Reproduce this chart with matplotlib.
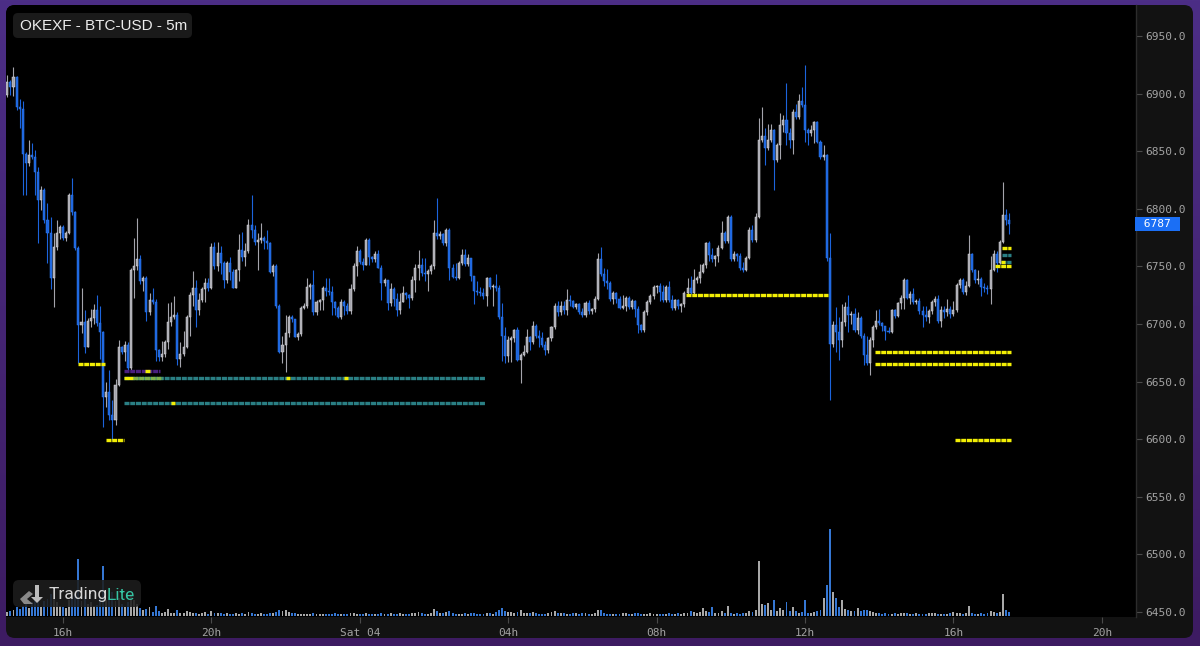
import matplotlib
matplotlib.use('Agg')
import matplotlib.pyplot as plt
import numpy as np
from matplotlib.patches import FancyBboxPatch, Polygon
from matplotlib.colors import LinearSegmentedColormap
import matplotlib.transforms as mtransforms

# ---------------- data ----------------
open0 = 6899
closes = [
    6910, 6906, 6914, 6888, 6887, 6848, 6840, 6847, 6845, 6832,
    6808, 6816, 6790, 6779, 6740, 6767, 6779, 6784, 6775, 6779,
    6812, 6797, 6766, 6699, 6702, 6680, 6703, 6705, 6712, 6701,
    6693, 6637, 6641, 6621, 6617, 6647, 6680, 6676, 6682, 6662,
    6747, 6750, 6756, 6737, 6740, 6710, 6721, 6719, 6677, 6671,
    6674, 6684, 6702, 6706, 6708, 6670, 6674, 6680, 6706, 6725,
    6731, 6712, 6721, 6730, 6736, 6731, 6767, 6750, 6762, 6753,
    6738, 6753, 6745, 6731, 6747, 6764, 6758, 6763, 6786, 6782,
    6771, 6773, 6775, 6772, 6770, 6745, 6750, 6716, 6676, 6682,
    6692, 6706, 6704, 6689, 6691, 6714, 6716, 6732, 6734, 6710,
    6719, 6721, 6731, 6729, 6728, 6719, 6714, 6706, 6719, 6716,
    6711, 6730, 6750, 6763, 6754, 6751, 6773, 6758, 6756, 6761,
    6749, 6736, 6738, 6718, 6730, 6722, 6712, 6719, 6727, 6725,
    6723, 6738, 6749, 6751, 6744, 6743, 6746, 6750, 6779, 6776,
    6778, 6770, 6782, 6749, 6741, 6740, 6753, 6760, 6752, 6757,
    6742, 6729, 6728, 6727, 6724, 6740, 6732, 6733, 6731, 6706,
    6690, 6672, 6686, 6688, 6695, 6669, 6673, 6676, 6689, 6684,
    6698, 6690, 6688, 6682, 6677, 6688, 6697, 6716, 6710, 6716,
    6712, 6721, 6720, 6715, 6717, 6710, 6708, 6718, 6711, 6713,
    6722, 6756, 6743, 6737, 6736, 6722, 6727, 6722, 6714, 6716,
    6723, 6715, 6720, 6713, 6699, 6695, 6710, 6719, 6724, 6732,
    6733, 6728, 6721, 6732, 6721, 6714, 6721, 6716, 6717, 6727,
    6731, 6727, 6738, 6740, 6745, 6751, 6770, 6760, 6756, 6759,
    6766, 6779, 6772, 6793, 6756, 6761, 6759, 6749, 6747, 6757,
    6782, 6773, 6793, 6860, 6863, 6853, 6860, 6868, 6842, 6855,
    6873, 6877, 6866, 6860, 6884, 6880, 6894, 6890, 6868, 6866,
    6868, 6875, 6858, 6845, 6847, 6757, 6683, 6699, 6693, 6686,
    6702, 6715, 6708, 6709, 6695, 6705, 6690, 6673, 6666, 6686,
    6697, 6703, 6701, 6698, 6694, 6693, 6712, 6707, 6718, 6723,
    6738, 6723, 6726, 6719, 6720, 6711, 6708, 6706, 6711, 6719,
    6722, 6703, 6712, 6710, 6713, 6709, 6712, 6734, 6738, 6728,
    6733, 6761, 6747, 6738, 6739, 6732, 6731, 6730, 6747, 6761,
    6753, 6771, 6795, 6790, 6787,
]
highs = [
    6916, 6912, 6923, 6915, 6895, 6894, 6849, 6860, 6857, 6851,
    6836, 6820, 6818, 6805, 6793, 6779, 6790, 6786, 6786, 6781,
    6814, 6827, 6798, 6768, 6731, 6712, 6705, 6713, 6717, 6725,
    6716, 6694, 6650, 6660, 6634, 6652, 6686, 6681, 6685, 6684,
    6749, 6775, 6792, 6760, 6742, 6742, 6727, 6731, 6722, 6678,
    6685, 6686, 6718, 6719, 6724, 6710, 6684, 6694, 6708, 6728,
    6746, 6738, 6727, 6732, 6740, 6740, 6770, 6771, 6771, 6768,
    6755, 6755, 6758, 6748, 6748, 6778, 6780, 6770, 6791, 6812,
    6786, 6779, 6788, 6776, 6782, 6771, 6752, 6752, 6717, 6690,
    6708, 6708, 6708, 6704, 6693, 6716, 6718, 6740, 6736, 6747,
    6721, 6722, 6733, 6740, 6740, 6733, 6720, 6716, 6722, 6721,
    6718, 6735, 6753, 6768, 6765, 6757, 6775, 6775, 6759, 6763,
    6764, 6751, 6740, 6738, 6736, 6732, 6727, 6727, 6733, 6728,
    6726, 6742, 6752, 6764, 6757, 6757, 6748, 6752, 6790, 6809,
    6781, 6779, 6783, 6783, 6752, 6753, 6755, 6765, 6765, 6761,
    6757, 6742, 6737, 6732, 6731, 6741, 6741, 6735, 6743, 6734,
    6718, 6697, 6690, 6690, 6696, 6697, 6675, 6682, 6696, 6690,
    6703, 6700, 6695, 6693, 6685, 6689, 6698, 6718, 6720, 6720,
    6720, 6730, 6725, 6721, 6718, 6718, 6714, 6720, 6721, 6714,
    6724, 6762, 6767, 6749, 6748, 6737, 6729, 6728, 6724, 6725,
    6724, 6724, 6722, 6721, 6716, 6700, 6712, 6721, 6726, 6734,
    6734, 6736, 6734, 6734, 6737, 6725, 6722, 6722, 6718, 6729,
    6740, 6742, 6748, 6742, 6752, 6753, 6771, 6772, 6766, 6760,
    6769, 6789, 6781, 6795, 6795, 6763, 6762, 6762, 6754, 6759,
    6784, 6786, 6796, 6879, 6888, 6870, 6874, 6874, 6869, 6857,
    6883, 6881, 6909, 6870, 6887, 6891, 6900, 6906, 6925, 6870,
    6873, 6876, 6876, 6860, 6855, 6848, 6779, 6703, 6715, 6706,
    6717, 6719, 6725, 6711, 6714, 6710, 6707, 6692, 6690, 6689,
    6699, 6712, 6713, 6702, 6698, 6697, 6713, 6713, 6719, 6725,
    6740, 6739, 6729, 6731, 6722, 6723, 6716, 6716, 6713, 6721,
    6724, 6725, 6716, 6716, 6722, 6716, 6720, 6736, 6740, 6740,
    6737, 6777, 6762, 6748, 6747, 6741, 6736, 6734, 6759, 6764,
    6763, 6773, 6823, 6800, 6796,
]
lows = [
    6897, 6899, 6898, 6886, 6870, 6812, 6812, 6837, 6843, 6812,
    6770, 6799, 6788, 6753, 6730, 6715, 6764, 6774, 6773, 6772,
    6778, 6795, 6764, 6666, 6692, 6675, 6680, 6697, 6700, 6698,
    6670, 6611, 6628, 6617, 6599, 6612, 6646, 6674, 6668, 6660,
    6659, 6723, 6747, 6735, 6729, 6703, 6708, 6717, 6668, 6668,
    6668, 6671, 6678, 6698, 6704, 6664, 6663, 6672, 6679, 6690,
    6716, 6697, 6708, 6719, 6719, 6729, 6730, 6748, 6746, 6743,
    6731, 6736, 6738, 6731, 6731, 6737, 6755, 6750, 6762, 6775,
    6769, 6747, 6770, 6765, 6765, 6744, 6742, 6714, 6675, 6666,
    6658, 6689, 6702, 6689, 6686, 6690, 6713, 6714, 6722, 6708,
    6708, 6712, 6712, 6724, 6725, 6708, 6708, 6705, 6704, 6708,
    6709, 6709, 6729, 6742, 6752, 6747, 6751, 6751, 6754, 6754,
    6749, 6721, 6733, 6712, 6716, 6716, 6707, 6709, 6719, 6722,
    6714, 6721, 6728, 6738, 6742, 6737, 6729, 6743, 6748, 6774,
    6774, 6769, 6768, 6738, 6740, 6738, 6739, 6751, 6750, 6750,
    6737, 6717, 6725, 6724, 6722, 6716, 6730, 6716, 6729, 6704,
    6668, 6666, 6667, 6667, 6684, 6668, 6649, 6672, 6675, 6677,
    6683, 6688, 6680, 6680, 6673, 6675, 6685, 6696, 6707, 6708,
    6709, 6708, 6716, 6714, 6713, 6709, 6706, 6706, 6709, 6709,
    6710, 6721, 6742, 6733, 6730, 6720, 6717, 6718, 6713, 6713,
    6711, 6713, 6713, 6706, 6692, 6693, 6693, 6708, 6717, 6722,
    6727, 6720, 6719, 6719, 6719, 6712, 6712, 6713, 6710, 6715,
    6726, 6726, 6726, 6736, 6736, 6744, 6749, 6755, 6754, 6750,
    6754, 6765, 6770, 6770, 6755, 6755, 6755, 6747, 6745, 6746,
    6756, 6771, 6771, 6792, 6858, 6838, 6851, 6858, 6816, 6841,
    6843, 6867, 6855, 6853, 6848, 6878, 6878, 6888, 6858, 6855,
    6863, 6857, 6857, 6843, 6842, 6755, 6634, 6680, 6676, 6669,
    6680, 6698, 6693, 6700, 6693, 6691, 6688, 6664, 6664, 6656,
    6680, 6696, 6699, 6694, 6686, 6692, 6692, 6705, 6706, 6713,
    6713, 6722, 6717, 6717, 6717, 6709, 6697, 6703, 6701, 6709,
    6716, 6701, 6697, 6705, 6707, 6705, 6707, 6710, 6731, 6726,
    6725, 6732, 6745, 6736, 6735, 6724, 6728, 6726, 6717, 6746,
    6745, 6752, 6770, 6786, 6778,
]
volumes = [
    4, 5, 6, 9, 7, 10, 12, 8, 14, 18,
    20, 9, 15, 17, 22, 18, 14, 10, 9, 8,
    16, 20, 22, 57, 15, 20, 12, 14, 10, 11,
    18, 50, 16, 19, 24, 15, 18, 12, 9, 14,
    22, 16, 12, 8, 6, 7, 9, 4, 10, 5,
    3, 4, 7, 3, 3, 6, 3, 3, 5, 4,
    3, 3, 2, 3, 4, 2, 5, 3, 3, 3,
    2, 3, 2, 2, 3, 2, 3, 2, 4, 3,
    2, 2, 3, 2, 2, 3, 3, 4, 6, 5,
    6, 4, 3, 3, 2, 2, 2, 2, 2, 3,
    2, 2, 2, 2, 2, 2, 3, 2, 2, 2,
    2, 3, 3, 2, 2, 2, 3, 2, 2, 2,
    2, 3, 2, 2, 3, 2, 2, 3, 2, 2,
    2, 3, 3, 4, 3, 2, 2, 3, 7, 5,
    3, 3, 4, 5, 3, 2, 2, 2, 3, 2,
    3, 3, 2, 2, 2, 3, 3, 2, 4, 6,
    8, 5, 4, 4, 3, 4, 6, 3, 3, 3,
    4, 3, 2, 2, 2, 3, 4, 5, 3, 3,
    3, 2, 2, 3, 3, 2, 3, 3, 2, 2,
    3, 6, 6, 3, 2, 2, 2, 2, 2, 3,
    3, 2, 2, 3, 3, 2, 2, 2, 3, 2,
    2, 2, 2, 2, 3, 2, 2, 3, 2, 3,
    3, 5, 4, 3, 4, 8, 5, 4, 9, 3,
    3, 5, 3, 10, 3, 2, 3, 2, 3, 3,
    5, 4, 6, 55, 12, 11, 13, 6, 16, 5,
    8, 6, 14, 5, 9, 5, 3, 4, 16, 3,
    3, 4, 5, 6, 18, 31, 87, 24, 18, 9,
    16, 7, 6, 5, 5, 8, 5, 6, 6, 5,
    4, 3, 3, 2, 3, 2, 2, 3, 2, 3,
    3, 3, 2, 2, 3, 2, 2, 2, 3, 3,
    3, 2, 2, 2, 2, 3, 4, 3, 3, 2,
    3, 10, 3, 2, 2, 3, 2, 3, 5, 4,
    3, 4, 22, 6, 4,
]

# price levels (horizontal order markers)
level_price = [6665, 6599, 6659.5, 6653, 6631.5, 6725, 6676, 6665.5, 6599, 6766, 6760, 6754, 6750]
level_start = [22.9, 31.9, 37.7, 37.7, 37.7, 219.5, 280.6, 280.6, 306.5, 321.7, 321.7, 321.4, 319.4]
level_end = [31.6, 37.7, 49.4, 154.5, 154.5, 265.4, 324.6, 324.6, 324.6, 324.6, 324.6, 324.6, 324.6]
level_kind = ['y', 'y', 'p', 't', 't', 'y', 'y', 'y', 'y', 'y', 't', 't', 'y']
spot_price = [6659.5, 6653, 6653, 6653, 6631.5, 6754]
spot_start = [44.6, 37.7, 90.2, 109.0, 52.9, 321.4]
spot_end = [46.2, 40.6, 91.4, 110.2, 54.1, 322.6]

xtick_pos = [18, 66, 114, 162, 210, 258, 306, 354]
xtick_labels = ['16h', '20h', 'Sat 04', '04h', '08h', '12h', '16h', '20h']
ytick_vals = [6450, 6500, 6550, 6600, 6650, 6700, 6750, 6800, 6850, 6900, 6950]
last_price = 6787

# ---------------- figure ----------------
W, H = 1200, 646
fig = plt.figure(figsize=(12, 6.46), dpi=100)

bg = fig.add_axes([0, 0, 1, 1])
bg.set_xlim(0, W); bg.set_ylim(H, 0); bg.axis('off')
cmap = LinearSegmentedColormap.from_list('p', ['#4c2e86', '#3d1b62'])
bg.imshow(np.linspace(0, 1, 256).reshape(-1, 1), aspect='auto', cmap=cmap,
          extent=[0, W, H, 0], zorder=0)
bg.add_patch(FancyBboxPatch((6, 5), 1187, 633, boxstyle='round,pad=0,rounding_size=9',
                            fc='#121212', ec='none', zorder=1))
bg.add_patch(FancyBboxPatch((6, 5), 1130, 612, boxstyle='round,pad=0,rounding_size=9',
                            fc='#000000', ec='none', zorder=2))
bg.add_patch(plt.Rectangle((15, 5), 1121, 612, fc='#000000', ec='none', zorder=2))
bg.add_patch(plt.Rectangle((6, 14), 20, 603, fc='#000000', ec='none', zorder=2))

left, right, top, bottom = 6, 1136, 5, 617
ax = fig.add_axes([left / W, (H - bottom) / H, (right - left) / W, (bottom - top) / H])
ax.patch.set_alpha(0)
y_top = 6950 + (36 - top) / 1.152
y_bot = 6950 - (bottom - 36) / 1.152
x0 = (left - 7.3) / 3.092
x1 = (right - 7.3) / 3.092
ax.set_ylim(y_bot, y_top)
ax.set_xlim(x0, x1)

n = len(closes)
idx = np.arange(n)
opens = np.array([open0] + closes[:-1], dtype=float)
c = np.array(closes, dtype=float)
hi = np.maximum(np.array(highs, float), np.maximum(opens, c))
lo = np.minimum(np.array(lows, float), np.minimum(opens, c))
up = c >= opens
BLUE = '#1c64dc'
BLUE_E = '#2f7cf2'
GRAY = '#a4a4ac'
GRAY_E = '#dedee2'

for mask, fc, ec in [(up, GRAY, GRAY_E), (~up, BLUE, BLUE_E)]:
    ax.vlines(idx[mask], lo[mask], hi[mask], color=fc, lw=0.8, zorder=3)
    bodies = np.maximum(np.abs(c - opens), 0.9)
    ax.bar(idx[mask], bodies[mask], bottom=np.minimum(opens, c)[mask], width=0.66,
           color=fc, edgecolor=ec, linewidth=0.35, zorder=4)

# level markers
kind_color = {'y': '#f2ee05', 't': '#2a7f84', 'p': '#4a1f80'}
dash = (0, (1.5, 0.22))
for p, s, e, k in zip(level_price, level_start, level_end, level_kind):
    ax.hlines(p, s, e, color=kind_color[k], lw=2.4, linestyles=dash, zorder=5)
for p, s, e in zip(spot_price, spot_start, spot_end):
    ax.hlines(p, s, e, color='#f2ee05', lw=2.4, zorder=6)
ax.hlines(6653, 40.6, 50.0, color='#7fb04a', lw=2.4, linestyles=dash, zorder=5)

# axes styling
for sp in ['top', 'left', 'bottom']:
    ax.spines[sp].set_visible(False)
ax.spines['right'].set_color('#2c2c2c')
ax.spines['right'].set_linewidth(1.0)
ax.yaxis.tick_right()
ax.set_yticks(ytick_vals)
ax.set_yticklabels([f'{v:.1f}' for v in ytick_vals], fontfamily='DejaVu Sans Mono')
ax.tick_params(axis='y', colors='#4a4a4a', labelcolor='#a3a3a3', length=4, width=0.8,
               pad=3, labelsize=8)
ax.set_xticks(xtick_pos)
ax.set_xticklabels(xtick_labels, fontfamily='DejaVu Sans Mono')
ax.tick_params(axis='x', colors='#4a4a4a', labelcolor='#a3a3a3', length=4, width=0.8,
               pad=4, labelsize=8)

# current price tag
trans = mtransforms.blended_transform_factory(ax.transAxes, ax.transData)
ax.text(1.0, last_price, f' {last_price} ', transform=mtransforms.offset_copy(trans, fig=fig, x=1, y=0, units='dots'),
        ha='left', va='center', color='white', fontsize=8, fontfamily='DejaVu Sans Mono',
        bbox=dict(boxstyle='square,pad=0.2', fc='#1b6ff5', ec='none'), zorder=10, clip_on=False)

# volume
axv = fig.add_axes(ax.get_position(), sharex=ax)
axv.patch.set_alpha(0)
axv.axis('off')
axv.set_ylim(-1, bottom - top - 1)
vol = np.array(volumes, float)
axv.bar(idx[up], vol[up], width=0.62, color='#a8a8a8', zorder=2)
axv.bar(idx[~up], vol[~up], width=0.62, color='#3577d4', zorder=2)
axv.set_xlim(x0, x1)

# overlay: title + logo
ov = fig.add_axes([0, 0, 1, 1])
ov.set_xlim(0, W); ov.set_ylim(H, 0); ov.axis('off'); ov.patch.set_alpha(0)
ov.add_patch(FancyBboxPatch((13, 13), 179, 25, boxstyle='round,pad=0,rounding_size=5',
                            fc='#1a1a1a', ec='none'))
ov.text(20, 26.5, 'OKEXF - BTC-USD - 5m', fontsize=11, color='#ececec',
        fontfamily='Liberation Sans', va='center', ha='left')

ov.add_patch(FancyBboxPatch((13, 580), 128, 27, boxstyle='round,pad=0,rounding_size=6',
                            fc='#1d1d1d', ec='none', alpha=0.88))
ov.add_patch(Polygon([(35, 585), (39, 585), (39, 597), (43, 597), (37, 603), (31, 597), (35, 597)],
                     closed=True, fc='#bdbdbd', ec='none'))
ov.add_patch(Polygon([(20, 599), (29, 591), (33, 594), (27, 599), (33, 604), (24, 604)],
                     closed=True, fc='#8a8a8a', ec='none'))
t1 = ov.text(49, 595, 'Trading', fontsize=12.5, color='#d6d6d6', fontfamily='Roboto',
             va='center', ha='left')
fig.canvas.draw()
bb = t1.get_window_extent()
x_end = bb.x1
ov.text(x_end - 1.5, 595, 'Lite', fontsize=12.5, color='#35c3a2', fontfamily='Roboto',
        va='center', ha='left')

fig.savefig('out.png', dpi=100, facecolor=fig.get_facecolor())
